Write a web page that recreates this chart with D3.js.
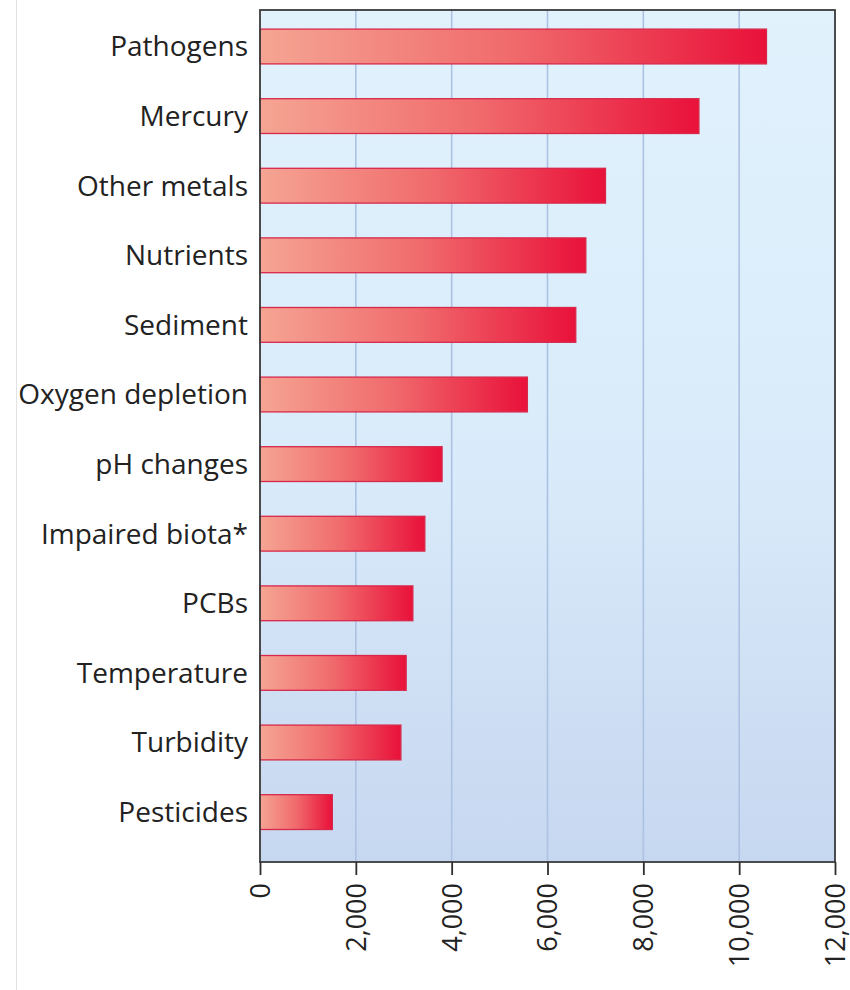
<!DOCTYPE html>
<html>
<head>
<meta charset="utf-8">
<script src="https://cdn.jsdelivr.net/npm/d3@7"></script>
<style>
  html, body { margin: 0; padding: 0; background: #ffffff; }
  svg { display: block; }
</style>
</head>
<body>
<svg id="chart" width="850" height="990"></svg>
<script>
// Causes of impairment, number of water bodies affected
const categories = [
  "Pathogens", "Mercury", "Other metals", "Nutrients", "Sediment",
  "Oxygen depletion", "pH changes", "Impaired biota*", "PCBs",
  "Temperature", "Turbidity", "Pesticides"
];
const values = [10570, 9160, 7210, 6800, 6590, 5580, 3800, 3440, 3190, 3050, 2940, 1510];
const tickValues = [0, 2000, 4000, 6000, 8000, 10000, 12000];

const svg = d3.select("#chart");
const W = 850, H = 990;
const margin = { top: 10, right: 15, bottom: 128, left: 260 };
const pw = W - margin.left - margin.right;
const ph = H - margin.top - margin.bottom;

const defs = svg.append("defs");

// plot background: pale sky blue fading to soft periwinkle
const bg = defs.append("linearGradient").attr("id", "bgGrad")
  .attr("x1", 0).attr("y1", 0).attr("x2", 0).attr("y2", 1);
bg.append("stop").attr("offset", "0%").attr("stop-color", "#e1f2fd");
bg.append("stop").attr("offset", "55%").attr("stop-color", "#d9eafa");
bg.append("stop").attr("offset", "100%").attr("stop-color", "#c6d7f0");

// bar fill: salmon at the base to crimson at the tip
const bar = defs.append("linearGradient").attr("id", "barGrad")
  .attr("x1", 0).attr("y1", 0).attr("x2", 1).attr("y2", 0);
bar.append("stop").attr("offset", "0%").attr("stop-color", "#f5a593");
bar.append("stop").attr("offset", "50%").attr("stop-color", "#f06a6c");
bar.append("stop").attr("offset", "100%").attr("stop-color", "#e9113a");

// thin frame line at the far left of the figure
svg.append("line")
  .attr("x1", 16.5).attr("x2", 16.5).attr("y1", 0).attr("y2", H)
  .attr("stroke", "#e2e2e2").attr("stroke-width", 1);

const g = svg.append("g").attr("transform", `translate(${margin.left},${margin.top})`);

const x = d3.scaleLinear().domain([0, 12000]).range([0, pw]);
const y = d3.scaleBand().domain(categories)
  .range([1.7, 836.9]).paddingInner(0.5).paddingOuter(0.25);

g.append("rect")
  .attr("x", 0).attr("y", 0).attr("width", pw).attr("height", ph)
  .attr("fill", "url(#bgGrad)");

// vertical grid lines
g.append("g").selectAll("line")
  .data(tickValues.slice(1, -1))
  .join("line")
  .attr("x1", d => x(d)).attr("x2", d => x(d))
  .attr("y1", 0).attr("y2", ph)
  .attr("stroke", "#adc1e2").attr("stroke-width", 1.6);

// bars
g.append("g").selectAll("rect")
  .data(categories)
  .join("rect")
  .attr("x", x(0))
  .attr("y", d => y(d))
  .attr("width", (d, i) => x(values[i]) - x(0))
  .attr("height", y.bandwidth())
  .attr("fill", "url(#barGrad)")
  .attr("stroke", "#d8284a")
  .attr("stroke-width", 1.3);

// plot frame
g.append("rect")
  .attr("x", 0).attr("y", 0).attr("width", pw).attr("height", ph)
  .attr("fill", "none").attr("stroke", "#3a3a3a").attr("stroke-width", 1.8);

// category labels
g.append("g").selectAll("text")
  .data(categories)
  .join("text")
  .attr("x", -12)
  .attr("y", d => y(d) + y.bandwidth() / 2)
  .attr("dy", "0.35em")
  .attr("text-anchor", "end")
  .attr("font-family", "'Open Sans', sans-serif")
  .attr("font-size", 28)
  .attr("fill", "#222222")
  .text(d => d);

// x axis with rotated tick labels
const xAxis = d3.axisBottom(x)
  .tickValues(tickValues)
  .tickFormat(d3.format(","))
  .tickSize(13)
  .tickSizeOuter(0);

const ax = g.append("g")
  .attr("transform", `translate(0,${ph})`)
  .call(xAxis);
ax.select(".domain").remove();
ax.selectAll(".tick line").attr("stroke", "#2e2e2e").attr("stroke-width", 1.8);
ax.selectAll(".tick text")
  .attr("font-family", "'Open Sans', sans-serif")
  .attr("font-size", 27)
  .attr("fill", "#222222")
  .attr("transform", "rotate(-90)")
  .attr("text-anchor", "end")
  .attr("x", -21)
  .attr("y", 0)
  .attr("dy", "0.35em");
</script>
</body>
</html>
